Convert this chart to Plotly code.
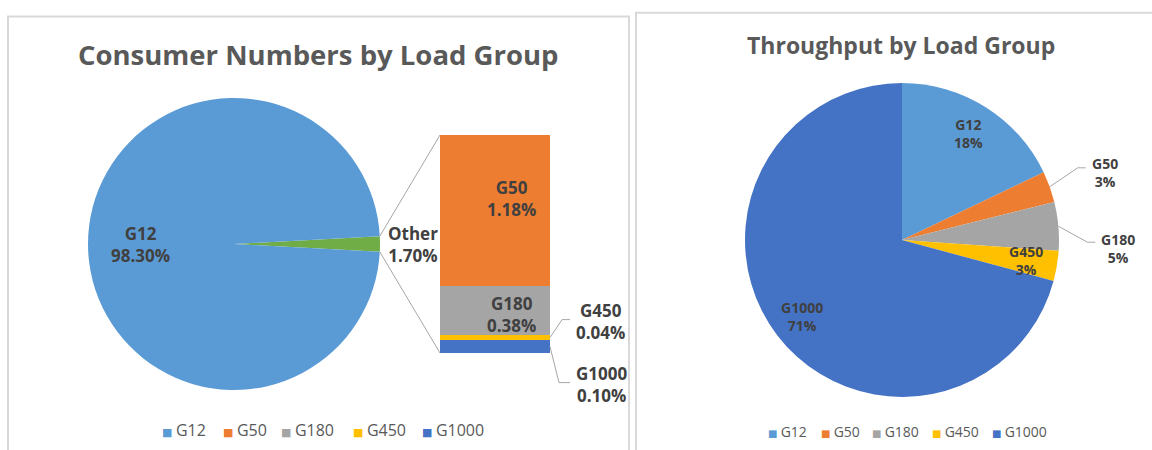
import math
import plotly.graph_objects as go

W, H = 1152, 450
FONT = "Open Sans"
TITLE_COLOR = "#595959"
LABEL_COLOR = "#404040"

# Consumer numbers by load group (%)
consumer_labels = ["Other", "G12"]
consumer_pct = [1.70, 98.30]
other_groups = ["G50", "G180", "G450", "G1000"]
other_pct = [1.18, 0.38, 0.04, 0.10]

# Throughput by load group (%)
groups = ["G12", "G50", "G180", "G450", "G1000"]
throughput_pct = [17.9, 3.2, 5.0, 3.1, 70.8]

colors = {
    "G12": "#5B9BD5",
    "G50": "#ED7D31",
    "G180": "#A5A5A5",
    "G450": "#FFC000",
    "G1000": "#4472C4",
    "Other": "#70AD47",
}


def px(x):
    return x / W


def py(y):
    return 1 - y / H


def on_circle(cx, cy, r, deg):
    # degrees clockwise from 12 o'clock, like plotly's pie
    a = math.radians(deg)
    return cx + r * math.sin(a), cy - r * math.cos(a)


fig = go.Figure()
annotations = []
shapes = []


def label(x, y, text, size, **kw):
    annotations.append(dict(
        x=kw.pop("xx", px(x)), y=kw.pop("yy", py(y)),
        xref=kw.pop("xref", "paper"), yref=kw.pop("yref", "paper"),
        xanchor=kw.pop("xanchor", "center"), yanchor="middle",
        text=text, showarrow=False, align="center",
        font=dict(family=FONT, size=size, color=LABEL_COLOR, weight="bold"),
        **kw))


def leader(x0, y0, dx, dy, run):
    x1, y1 = x0 + dx, y0 + dy
    x2 = x1 + run
    shapes.append(dict(
        type="path", xref="paper", yref="paper",
        path=f"M {px(x0)},{py(y0)} L {px(x1)},{py(y1)} L {px(x2)},{py(y1)}",
        line=dict(color="#a6a6a6", width=1)))
    return x2, y1


def legend_entry(name, legend, width, sq):
    # small square glyph sits right against the text, like Excel's legend keys
    key = f'<span style="font-family:DejaVu Sans;font-size:{sq}px;color:{colors[name]}">■ </span>'
    fig.add_trace(go.Scatter(
        x=[None], y=[None], mode="none", name=key + name,
        legend=legend, legendwidth=width, hoverinfo="skip"))


# ---------------- left: pie of bar ----------------
L_CX, L_CY, L_R = 234, 244, 146
total = sum(consumer_pct)
other_deg = consumer_pct[0] / total * 360
rot = 90 - other_deg / 2

fig.add_trace(go.Pie(
    labels=consumer_labels, values=consumer_pct,
    marker=dict(colors=[colors[k] for k in consumer_labels], line=dict(width=0)),
    sort=False, direction="clockwise", rotation=rot,
    textinfo="none", showlegend=False, hoverinfo="label+value",
    domain=dict(x=[px(L_CX - L_R), px(L_CX + L_R)], y=[py(L_CY + L_R), py(L_CY - L_R)]),
))

BAR_X0, BAR_X1, BAR_TOP, BAR_BOT = 440, 550, 135, 353
other_total = sum(other_pct)

for name, val in reversed(list(zip(other_groups, other_pct))):
    fig.add_trace(go.Bar(
        x=["Other"], y=[val], name=name,
        marker=dict(color=colors[name], line=dict(width=0)),
        showlegend=False, xaxis="x", yaxis="y",
    ))

# connector lines from the "Other" slice to the bar
for deg, by in ((rot, BAR_TOP), (rot + other_deg, BAR_BOT)):
    ex, ey = on_circle(L_CX, L_CY, L_R, deg)
    shapes.append(dict(type="line", xref="paper", yref="paper",
                       x0=px(ex), y0=py(ey), x1=px(BAR_X0), y1=py(by),
                       line=dict(color="#a6a6a6", width=1)))

# pie labels
g12_mid = rot + other_deg + (360 - other_deg) / 2
gx, gy = on_circle(L_CX, L_CY, L_R * 0.64, g12_mid)
label(gx, gy, f"{consumer_labels[1]}<br>{consumer_pct[1]:.2f}%", 17)
label(L_CX + L_R + 6, L_CY, f"{consumer_labels[0]}<br>{consumer_pct[0]:.2f}%", 17, xanchor="left")

# bar labels
unit = (BAR_BOT - BAR_TOP) / other_total
base = {}
acc = 0
for name, val in reversed(list(zip(other_groups, other_pct))):
    base[name] = acc
    acc += val
inside_shift = {"G50": 12, "G180": -4}
bar_leaders = {"G450": (12, -18, 8), "G1000": (9, 36, 11)}
for name, val in zip(other_groups, other_pct):
    text = f"{name}<br>{val:.2f}%"
    mid = base[name] + val / 2
    if name in inside_shift:
        label(0, 0, text, 17, xx=0, yy=mid, xref="x", yref="y",
              xshift=16, yshift=inside_shift[name])
    else:
        sy = BAR_BOT - mid * unit
        ex, ey = leader(BAR_X1, sy, *bar_leaders[name])
        label(ex + 4, ey + 2, text, 17, xanchor="left")

# left legend
for name, w in zip(groups, [16, 13, 27, 24, 70]):
    legend_entry(name, "legend", w, 11)

# ---------------- right: throughput pie ----------------
R_CX, R_CY, R_R = 902, 240, 157
fig.add_trace(go.Pie(
    labels=groups, values=throughput_pct,
    marker=dict(colors=[colors[g] for g in groups], line=dict(width=0)),
    sort=False, direction="clockwise", rotation=0,
    textinfo="none", showlegend=False,
    domain=dict(x=[px(R_CX - R_R), px(R_CX + R_R)], y=[py(R_CY + R_R), py(R_CY - R_R)]),
))

tp_total = sum(throughput_pct)
pie_leaders = {"G50": (28, -19, 8, 4, 5), "G180": (29, 16, 8, 4, 6)}
acc = 0
for name, val in zip(groups, throughput_pct):
    mid = (acc + val / 2) / tp_total * 360
    acc += val
    text = f"{name}<br>{val / tp_total:.0%}"
    if name in pie_leaders:
        dx, dy, run, lx, ly = pie_leaders[name]
        sx, sy = on_circle(R_CX, R_CY, R_R, mid)
        ex, ey = leader(sx, sy, dx, dy, run)
        label(ex + lx, ey + ly, text, 14, xanchor="left")
    else:
        tx, ty = on_circle(R_CX, R_CY, R_R * 0.8, mid)
        label(tx, ty, text, 14)

# right legend
for name, w in zip(groups, [8, 6, 15, 15, 60]):
    legend_entry(name, "legend2", w, 10)

# titles
for x, y, text, size in ((318, 54, "Consumer Numbers by Load Group", 27.5),
                         (901, 45, "Throughput by Load Group", 23)):
    annotations.append(dict(x=px(x), y=py(y), xref="paper", yref="paper", showarrow=False,
                            xanchor="center", yanchor="middle", text=text,
                            font=dict(family=FONT, size=size, color=TITLE_COLOR, weight="bold")))

# panel frames
shapes.append(dict(type="rect", xref="paper", yref="paper", layer="below",
                   x0=px(8), y0=py(470), x1=px(629), y1=py(16.5),
                   line=dict(color="#d9d9d9", width=2)))
shapes.append(dict(type="rect", xref="paper", yref="paper", layer="below",
                   x0=px(636), y0=py(470), x1=px(1170), y1=py(12.7),
                   line=dict(color="#d9d9d9", width=2)))

fig.update_layout(
    width=W, height=H,
    margin=dict(l=0, r=0, t=0, b=0),
    paper_bgcolor="white", plot_bgcolor="white",
    barmode="stack", bargap=0,
    xaxis=dict(domain=[px(BAR_X0), px(BAR_X1)], visible=False, type="category", range=[-0.5, 0.5]),
    yaxis=dict(domain=[py(BAR_BOT), py(BAR_TOP)], visible=False, range=[0, other_total]),
    legend=dict(orientation="h", traceorder="normal", x=px(122), xanchor="left", y=py(430), yanchor="middle",
                font=dict(family=FONT, size=16, color=TITLE_COLOR), bgcolor="rgba(0,0,0,0)"),
    legend2=dict(orientation="h", traceorder="normal", x=px(728), xanchor="left", y=py(432), yanchor="middle",
                 font=dict(family=FONT, size=14, color=TITLE_COLOR), bgcolor="rgba(0,0,0,0)"),
    annotations=annotations,
    shapes=shapes,
)

fig.write_html("out.html", config={"displayModeBar": False},
               post_script="document.body.style.margin = '0';")
